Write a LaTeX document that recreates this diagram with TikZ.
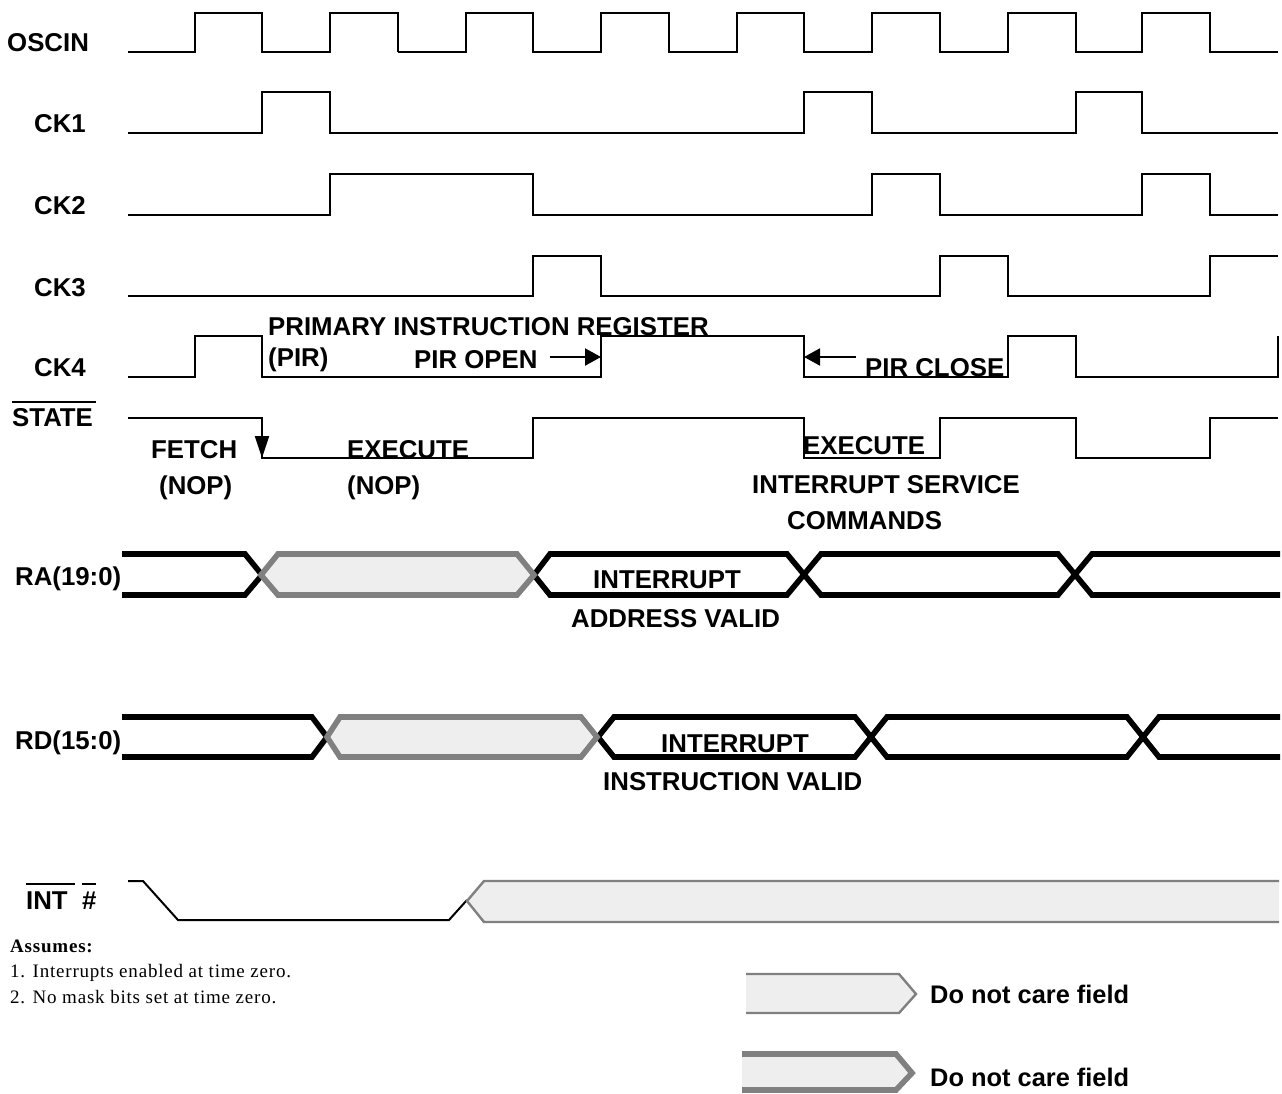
\documentclass[tikz,border=0pt]{standalone}
\usepackage{fontspec}
\setmainfont{Liberation Sans}
\newfontfamily\notefont[LetterSpace=4.2]{Liberation Serif}
\usetikzlibrary{arrows.meta}
\definecolor{busgray}{HTML}{808080}
\definecolor{carefill}{HTML}{EEEEEE}
\tikzset{
  x=1pt,y=-1pt,
  wave/.style={draw=black,line width=2pt,line join=miter},
  bus/.style={draw=black,line width=5.6pt,line join=miter},
  careheavy/.style={draw=busgray,line width=5.6pt,line join=miter},
  carelight/.style={draw=busgray,line width=2.4pt,line join=miter},
  carefield/.style={fill=carefill,draw=none},
  lab/.style={anchor=base west,inner sep=0pt,font=\bfseries\fontsize{25.8}{26}\selectfont},
  lableg/.style={anchor=base west,inner sep=0pt,font=\bfseries\fontsize{25.4}{26}\selectfont},
  note/.style={anchor=base west,inner sep=0pt,font=\notefont\fontsize{19}{20}\selectfont},
  noteb/.style={anchor=base west,inner sep=0pt,font=\notefont\bfseries\fontsize{19}{20}\selectfont},
  bar/.style={draw=black,line width=2pt},
  mark arrow/.style={draw=black,line width=2pt,-{Triangle[length=16pt,width=17pt]}},
  fall arrow/.style={draw=black,line width=2pt,-{Triangle[length=22pt,width=14pt]}},
}
\begin{document}
\begin{tikzpicture}
\useasboundingbox (0,0) rectangle (1282,1093);
% clocks
\draw[wave] (128,52) -- (195,52) |- (262,13) |- (330,52) |- (398,13) -- (398,52);
\draw[wave] (398,52) -- (466,52) |- (533,13) |- (601,52) |- (669,13) |- (737,52) |- (804,13) |- (872,52) |- (940,13) |- (1008,52) |- (1076,13) |- (1142,52) |- (1210,13) |- (1278,52);
\draw[wave] (128,133) -- (262,133) |- (330,92) |- (804,133) |- (872,92) |- (1076,133) |- (1142,92) |- (1278,133);
\draw[wave] (128,215) -- (330,215) |- (533,174) |- (872,215) |- (940,174) |- (1142,215) |- (1210,174) |- (1278,215);
\draw[wave] (128,296) -- (533,296) |- (601,256) |- (940,296) |- (1008,256) |- (1210,296) |- (1278,256);
\draw[wave] (128,377) -- (195,377) |- (262,336) |- (601,377) |- (804,336) |- (1008,377) |- (1076,336) |- (1278,377) -- (1278,336);
\draw[wave] (128,418) -- (262,418) |- (533,458) |- (804,418) |- (940,458) |- (1076,418) |- (1210,458) |- (1278,418);
% RA bus
\draw[bus] (122,554) -- (245,554) -- (262,575) -- (245,595) -- (122,595);
\path[carefield] (261,575) -- (278,554) -- (517,554) -- (534,575) -- (517,595) -- (278,595) -- cycle;
\draw[bus] (1280,554) -- (1092,554) -- (1058,595) -- (821,595) -- (787,554) -- (550,554) -- (534,575) -- (550,595) -- (787,595) -- (821,554) -- (1058,554) -- (1092,595) -- (1280,595);
\draw[careheavy] (261,575) -- (278,554) -- (517,554) -- (534,575) -- (517,595) -- (278,595) -- cycle;
% RD bus
\draw[bus] (122,717) -- (312,717) -- (327,737) -- (312,757) -- (122,757);
\path[carefield] (327,737) -- (340,717) -- (581,717) -- (597,737) -- (581,757) -- (340,757) -- cycle;
\draw[bus] (1280,717) -- (1159,717) -- (1127,757) -- (887,757) -- (855,717) -- (614,717) -- (598,737) -- (614,757) -- (855,757) -- (887,717) -- (1127,717) -- (1159,757) -- (1280,757);
\draw[careheavy] (327,737) -- (340,717) -- (581,717) -- (597,737) -- (581,757) -- (340,757) -- cycle;
% INT
\draw[wave] (128,881) -- (143,881) -- (178,920) -- (449,920) -- (467,900);
\path[carefield] (467,901) -- (484,881) -- (1279,881) -- (1279,922) -- (484,922) -- cycle;
\draw[carelight] (1279,881) -- (484,881) -- (467,901) -- (484,922) -- (1279,922);
% legend
\path[carefield] (746,974) -- (899,974) -- (916,994) -- (899,1013) -- (746,1013) -- cycle;
\draw[carelight] (746,974) -- (899,974) -- (916,994) -- (899,1013) -- (746,1013);
\path[carefield] (742,1054) -- (896,1054) -- (912,1073) -- (896,1090) -- (742,1090) -- cycle;
\draw[careheavy] (742,1054) -- (896,1054) -- (912,1073) -- (896,1090) -- (742,1090);
% arrows
\coordinate (openfrom) at (550,357); \coordinate (opento) at (601,357);
\coordinate (closefrom) at (856,357); \coordinate (closeto) at (804,357);
\coordinate (fallfrom) at (262,418); \coordinate (fallto) at (262,458);
\draw[mark arrow] (openfrom) -- (opento);
\draw[mark arrow] (closefrom) -- (closeto);
\draw[fall arrow] (fallfrom) -- (fallto);
% labels
\node[lab] (oscin) at (7,51) {OSCIN};
\node[lab] (ck1) at (34,132) {CK1};
\node[lab] (ck2) at (34,214) {CK2};
\node[lab] (ck3) at (34,296) {CK3};
\node[lab] (ck4) at (34,376) {CK4};
\node[lab] (state) at (12,426) {STATE};
\draw[bar] (12,402) -- (96,402);
\node[lab] (pir1) at (268,335) {PRIMARY INSTRUCTION REGISTER};
\node[lab] (pir2) at (268,366) {(PIR)};
\node[lab] (piropen) at (414,368) {PIR OPEN};
\node[lab] (pirclose) at (865,376) {PIR CLOSE};
\node[lab] (fetch) at (151,458) {FETCH};
\node[lab] (nop1) at (159,494) {(NOP)};
\node[lab] (exec1) at (347,458) {EXECUTE};
\node[lab] (nop2) at (347,494) {(NOP)};
\node[lab] (exec2) at (803,454) {EXECUTE};
\node[lab] (iserv) at (752,493) {INTERRUPT SERVICE};
\node[lab] (cmds) at (787,529) {COMMANDS};
\node[lab] (ra) at (15,585) {RA(19:0)};
\node[lab] (raint) at (593,588) {INTERRUPT};
\node[lab] (raval) at (571,627) {ADDRESS VALID};
\node[lab] (rd) at (15,749) {RD(15:0)};
\node[lab] (rdint) at (661,752) {INTERRUPT};
\node[lab] (rdval) at (603,790) {INSTRUCTION VALID};
\node[lab] (int) at (26,909) {INT};
\node[lab] (hash) at (82,909) {\#};
\draw[bar] (26,884) -- (75,884);
\draw[bar] (82,884) -- (96,884);
\node[noteb] (assumes) at (10,952) {Assumes:};
\node[note] (n1) at (10,977) {1. Interrupts enabled at time zero.};
\node[note] (n2) at (10,1003) {2. No mask bits set at time zero.};
\node[lableg] (dnc1) at (930,1003) {Do not care field};
\node[lableg] (dnc2) at (930,1086) {Do not care field};
\end{tikzpicture}
\end{document}
